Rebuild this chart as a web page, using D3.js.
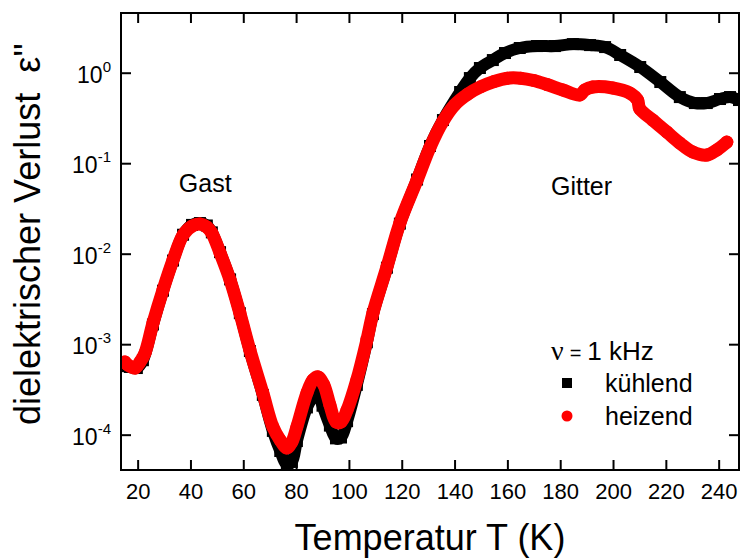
<!DOCTYPE html>
<html>
<head>
<meta charset="utf-8">
<script src="https://cdn.jsdelivr.net/npm/d3@7"></script>
<style>
  body { margin: 0; background: #fff; }
  text { font-family: "Liberation Sans", Arial, sans-serif; fill: #000; }
</style>
</head>
<body>
<div id="chart"></div>
<script>
// values (T in K, eps'' dimensionless)
const tempCool = [14.1, 17.1, 19.7, 22.0, 25.8, 29.6, 33.4, 37.2, 40.6, 43.6, 46.2, 48.1, 51.2, 55.0, 58.7, 62.5,
    67.4, 71.2, 74.0, 76.5, 78.4, 80.3, 84.1, 86.4, 88.0, 90.0, 92.8, 95.1, 97.0, 99.3, 103.0, 106.8,
    109.1, 114.4, 119.3, 125.8, 130.7, 135.6, 142.1, 145.8, 149.6, 154.5, 159.1, 164.7, 171.2, 178.0,
    184.8, 191.3, 197.0, 202.7, 210.3, 217.9, 225.3, 231.0, 235.5, 240.5, 244.3, 247.7];
const epsCool = [5.74e-4, 5.6e-4, 5.45e-4, 6.65e-4, 1.65e-3, 3.9e-3, 8.4e-3, 0.0162, 0.0208, 0.0218, 0.0205, 0.0172, 0.0104, 5.2e-3, 2.2e-3, 8.4e-4,
    2.75e-4, 1.1e-4, 6.6e-5, 4.7e-5, 5.0e-5, 8.5e-5, 2.0e-4, 2.63e-4, 3.0e-4, 2.09e-4, 1.26e-4, 9.1e-5, 9.3e-5, 1.41e-4, 3.55e-4, 1.05e-3,
    2.15e-3, 7.0e-3, 0.0215, 0.066, 0.155, 0.30, 0.612, 0.873, 1.127, 1.38, 1.65, 1.875, 1.97, 1.97,
    2.07, 2.02, 1.92, 1.57, 1.156, 0.789, 0.538, 0.462, 0.462, 0.512, 0.538, 0.499];

const tempHeat = [15.2, 16.3, 19.0, 20.9, 22.8, 25.8, 29.6, 33.4, 37.2, 40.6, 43.6, 46.2, 48.1, 51.2, 55.0, 58.7, 62.5,
    67.4, 71.2, 73.9, 76.5, 78.4, 80.3, 84.1, 86.4, 88.3, 90.5, 92.8, 95.1, 97.0, 99.3, 103.0, 106.8,
    109.1, 114.4, 119.3, 125.8, 130.7, 135.6, 140.0, 145.0, 150.0, 155.0, 160.0, 165.0, 170.0, 175.0, 181.0,
    187.4, 189.3, 192.3, 199.9, 206.3, 209.3, 210.1, 215.0, 220.4, 225.3, 230.2, 235.5, 239.3, 243.1];
const epsHeat = [6.35e-4, 5.89e-4, 5.45e-4, 6.35e-4, 8.0e-4, 1.71e-3, 3.97e-3, 8.5e-3, 0.0161, 0.0202, 0.0213, 0.0197, 0.0169, 0.0102, 5.12e-3, 2.21e-3, 8.6e-4,
    2.89e-4, 1.22e-4, 8.75e-5, 7.13e-5, 8.3e-5, 1.22e-4, 2.89e-4, 4.03e-4, 4.35e-4, 3.55e-4, 2.13e-4, 1.38e-4, 1.38e-4, 1.87e-4, 4.03e-4, 1.11e-3,
    2.21e-3, 7.13e-3, 0.0218, 0.0649, 0.150, 0.29, 0.44, 0.58, 0.70, 0.80, 0.87, 0.87, 0.82, 0.74, 0.644,
    0.568, 0.644, 0.695, 0.678, 0.597, 0.499, 0.40, 0.300, 0.221, 0.167, 0.133, 0.123, 0.140, 0.171];

const xTicks = [20, 40, 60, 80, 100, 120, 140, 160, 180, 200, 220, 240];
const yTicks = [1e-4, 1e-3, 1e-2, 1e-1, 1];
const yExponents = ["-4", "-3", "-2", "-1", "0"];

const cooling = tempCool.map((t, i) => ({ t: t, e: epsCool[i] }));
const heating = tempHeat.map((t, i) => ({ t: t, e: epsHeat[i] }));

const W = 742, H = 558;
const margin = { top: 13, right: 3, bottom: 88, left: 121 };
const width = W - margin.left - margin.right;
const height = H - margin.top - margin.bottom;

const svg = d3.select('#chart').append('svg')
    .attr('width', W)
    .attr('height', H);

const chart = svg.append('g')
    .attr('transform', `translate(${margin.left}, ${margin.top})`);

const xScale = d3.scaleLinear()
    .domain([13.7, 247.7])
    .range([0, width]);

const yScale = d3.scaleLog()
    .domain([4.07e-5, 4.57])
    .range([height, 0]);

chart.append('clipPath')
    .attr('id', 'clip')
    .append('rect')
    .attr('width', width)
    .attr('height', height);

const plot = chart.append('g').attr('clip-path', 'url(#clip)');

const line = d3.line()
    .x((d) => xScale(d.t))
    .y((d) => yScale(d.e))
    .curve(d3.curveCatmullRom);

// kuehlend: black squares
plot.append('path')
    .datum(cooling)
    .attr('d', line)
    .attr('fill', 'none')
    .attr('stroke', '#000')
    .attr('stroke-width', 12)
    .attr('stroke-linejoin', 'round');

plot.selectAll('.sq')
    .data(cooling)
    .enter()
    .append('rect')
    .attr('class', 'sq')
    .attr('x', (d) => xScale(d.t) - 6)
    .attr('y', (d) => yScale(d.e) - 6)
    .attr('width', 12)
    .attr('height', 12)
    .attr('fill', '#000');

// heizend: red circles
plot.append('path')
    .datum(heating)
    .attr('d', line)
    .attr('fill', 'none')
    .attr('stroke', '#ff0000')
    .attr('stroke-width', 13)
    .attr('stroke-linejoin', 'round')
    .attr('stroke-linecap', 'round');

plot.selectAll('.dot')
    .data(heating)
    .enter()
    .append('circle')
    .attr('class', 'dot')
    .attr('cx', (d) => xScale(d.t))
    .attr('cy', (d) => yScale(d.e))
    .attr('r', 6.5)
    .attr('fill', '#ff0000');

// axes, ticks pointing inward on all four sides
const styleAxis = (g) => {
    g.select('.domain').remove();
    g.selectAll('.tick line').attr('stroke', '#000').attr('stroke-width', 2);
};

chart.append('g')
    .attr('transform', `translate(0, ${height})`)
    .call(d3.axisBottom(xScale).tickValues(xTicks).tickSize(-10).tickPadding(13))
    .call(styleAxis)
    .selectAll('text')
    .attr('font-size', 22)
    .attr('font-family', '"Liberation Sans", Arial, sans-serif');

chart.append('g')
    .call(d3.axisTop(xScale).tickValues(xTicks).tickSize(-10).tickFormat(''))
    .call(styleAxis);

chart.append('g')
    .call(d3.axisLeft(yScale).tickValues(yTicks).tickSize(-10).tickFormat(''))
    .call(styleAxis);

chart.append('g')
    .attr('transform', `translate(${width}, 0)`)
    .call(d3.axisRight(yScale).tickValues(yTicks).tickSize(-10).tickFormat(''))
    .call(styleAxis);

// y tick labels as 10^n
const yLab = chart.selectAll('.ylab')
    .data(yTicks)
    .enter()
    .append('text')
    .attr('class', 'ylab')
    .attr('x', -10)
    .attr('y', (d) => yScale(d) + 10)
    .attr('text-anchor', 'end')
    .attr('font-size', 23);
yLab.append('tspan').text('10');
yLab.append('tspan')
    .attr('font-size', 15)
    .attr('dy', -11)
    .text((d, i) => yExponents[i]);

// frame
chart.append('rect')
    .attr('width', width)
    .attr('height', height)
    .attr('fill', 'none')
    .attr('stroke', '#000')
    .attr('stroke-width', 2);

// axis titles
chart.append('text')
    .attr('x', width / 2)
    .attr('y', 537)
    .attr('text-anchor', 'middle')
    .attr('font-size', 36)
    .text('Temperatur T (K)');

svg.append('text')
    .attr('transform', 'translate(40, 234) rotate(-90)')
    .attr('text-anchor', 'middle')
    .attr('font-size', 36)
    .text('dielektrischer Verlust\u00a0\u00a0ε\'\'');

// peak labels
chart.append('text')
    .attr('x', xScale(35.6))
    .attr('y', yScale(0.0484))
    .attr('font-size', 25)
    .text('Gast');

chart.append('text')
    .attr('x', xScale(176.5))
    .attr('y', yScale(0.0445))
    .attr('font-size', 25)
    .text('Gitter');

// legend
const legend = svg.append('g');
const nu = legend.append('text')
    .attr('x', 551)
    .attr('y', 360)
    .attr('font-size', 26);
nu.append('tspan')
    .attr('font-family', '"Liberation Serif", "Times New Roman", serif')
    .attr('font-size', 28)
    .text('ν');
nu.append('tspan')
    .attr('font-size', 20)
    .attr('dx', 6)
    .text('=');
nu.append('tspan')
    .attr('dx', 6)
    .text('1 kHz');

legend.append('rect')
    .attr('x', 562)
    .attr('y', 378)
    .attr('width', 10)
    .attr('height', 10)
    .attr('fill', '#000');
legend.append('text')
    .attr('x', 605)
    .attr('y', 392)
    .attr('font-size', 25)
    .text('kühlend');

legend.append('circle')
    .attr('cx', 567)
    .attr('cy', 416)
    .attr('r', 5.5)
    .attr('fill', '#ff0000');
legend.append('text')
    .attr('x', 605)
    .attr('y', 425)
    .attr('font-size', 25)
    .text('heizend');
</script>
</body>
</html>
